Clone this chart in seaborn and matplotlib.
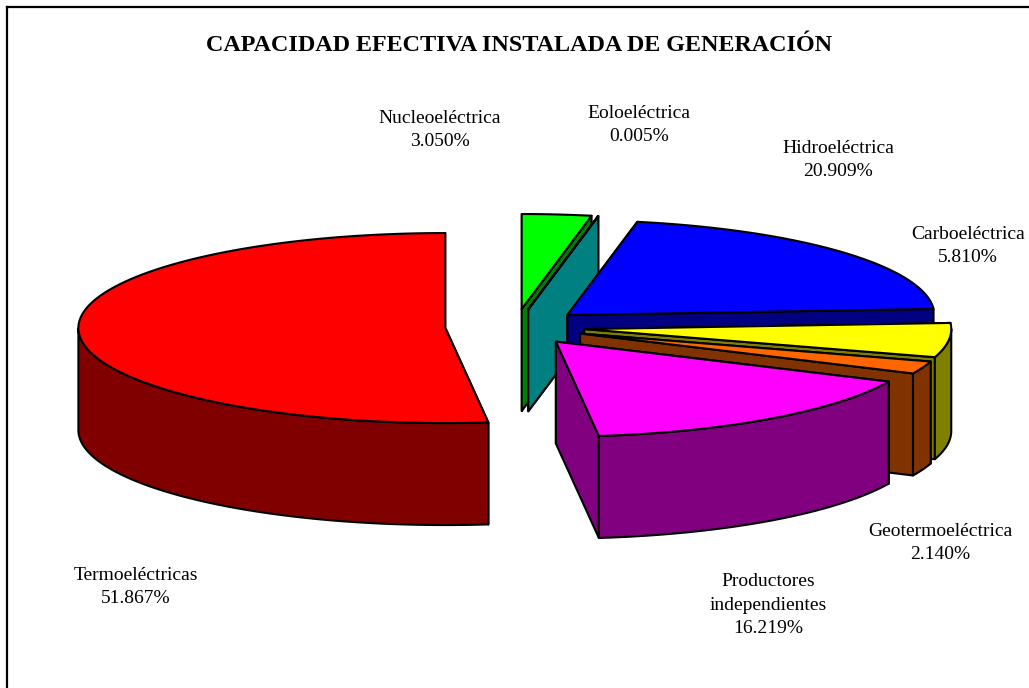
import numpy as np
import matplotlib.pyplot as plt
import seaborn as sns

# clockwise from 12 o'clock
categories = ['Nucleoeléctrica', 'Eoloeléctrica', 'Hidroeléctrica', 'Carboeléctrica',
              'Geotermoeléctrica', 'Productores\nindependientes', 'Termoeléctricas']
shares = [3.050, 0.005, 20.909, 5.810, 2.140, 16.219, 51.867]
top_colors = ['#00FF00', '#00FFFF', '#0000FF', '#FFFF00', '#FF6600', '#FF00FF', '#FF0000']
side_colors = ['#008000', '#008080', '#000080', '#808000', '#803300', '#800080', '#800000']
title = 'CAPACIDAD EFECTIVA INSTALADA DE GENERACIÓN'

sns.set_style('white')
plt.rcParams['font.family'] = ['Liberation Serif', 'DejaVu Serif']

# pie geometry in pixels
cx, cy = 515, 327
rx, ry = 367, 95
depth = 102
explode = 0.19
lw = 1.5

label_xy = [(440, 130), (639, 125), (838, 160), (968, 246), (940, 543), (768, 605), (136, 587)]

fig = plt.figure(figsize=(10.29, 6.88), dpi=100)
ax = fig.add_axes([7 / 1029, 0, 1 - 7 / 1029, 1 - 7 / 688])
ax.set_xlim(7, 1029)
ax.set_ylim(688, 7)
ax.set_xticks([])
ax.set_yticks([])
sns.despine(ax=ax, top=False, left=False, right=True, bottom=True)
for side in ['top', 'left']:
    ax.spines[side].set_color('black')
    ax.spines[side].set_linewidth(1.6)


def rim(x0, y0, angle):
    return x0 + rx * np.sin(angle), y0 - ry * np.cos(angle)


def face(xs, ys, color):
    ax.fill(xs, ys, facecolor=color, edgecolor='black', linewidth=lw, joinstyle='round')


edges = np.radians(np.concatenate([[0], np.cumsum(shares)]) * 3.6)

for i, name in enumerate(categories):
    t0, t1 = edges[i], edges[i + 1]
    x0, y0 = rim(cx, cy, (t0 + t1) / 2)
    x0 = cx + (x0 - cx) * explode
    y0 = cy + (y0 - cy) * explode

    # cut faces
    for t in (t0, t1):
        xr, yr = rim(x0, y0, t)
        face([x0, xr, xr, x0], [y0, yr, yr + depth, y0 + depth], side_colors[i])

    # outer wall, only the part turned to the viewer
    lo, hi = max(t0, np.pi / 2), min(t1, 3 * np.pi / 2)
    if lo < hi:
        t = np.linspace(lo, hi, 200)
        xr, yr = rim(x0, y0, t)
        face(np.r_[xr, xr[::-1]], np.r_[yr, yr[::-1] + depth], side_colors[i])

    # top
    t = np.linspace(t0, t1, 300)
    xr, yr = rim(x0, y0, t)
    face(np.r_[x0, xr], np.r_[y0, yr], top_colors[i])

    ax.text(label_xy[i][0], label_xy[i][1], f'{name}\n{shares[i]:.3f}%', ha='center', va='center',
            fontsize=14, linespacing=1.5, color='black')

ax.text(519, 45, title, ha='center', va='center', fontsize=17.4, fontweight='bold', color='black')

fig.savefig('out.png', dpi=100)
